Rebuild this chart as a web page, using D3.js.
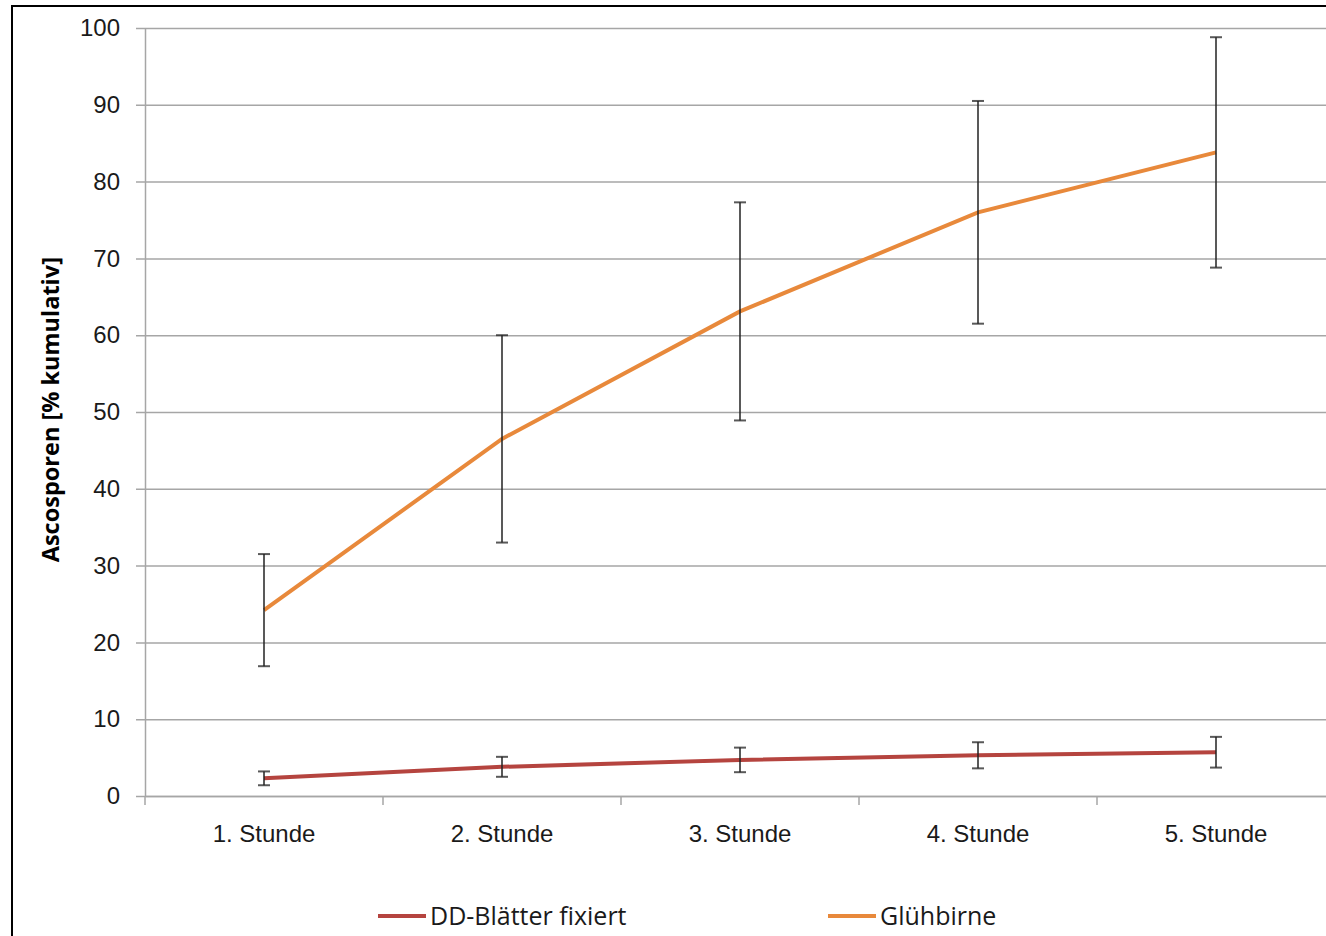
<!DOCTYPE html>
<html>
<head>
<meta charset="utf-8">
<script src="https://cdn.jsdelivr.net/npm/d3@7"></script>
<style>
  body { margin: 0; background: #fff; }
  svg { display: block; font-family: "Open Sans", "Noto Sans", sans-serif; }
</style>
</head>
<body>
<div id="chart"></div>
<script>
const categories = ["1. Stunde", "2. Stunde", "3. Stunde", "4. Stunde", "5. Stunde"];
const yTicks = [0, 10, 20, 30, 40, 50, 60, 70, 80, 90, 100];

const ddValues = [2.3, 3.8, 4.7, 5.3, 5.7];
const ddErrors = [0.9, 1.3, 1.6, 1.7, 2.0];
const glValues = [24.2, 46.5, 63.1, 76.0, 83.8];
const glErrors = [7.3, 13.5, 14.2, 14.5, 15.0];

const seriesNames = ["DD-Blätter fixiert", "Glühbirne"];
const seriesColors = ["#b5443f", "#e8893b"];

const w = 1326, h = 936;
const margin = { top: 28, left: 145, bottom: 140, right: -9 };

const svg = d3.select("#chart").append("svg")
  .attr("width", w)
  .attr("height", h);

// outer frame (cropped on the right and bottom)
svg.append("path")
  .attr("d", `M12,${h} V6 H${w}`)
  .attr("fill", "none")
  .attr("stroke", "#000")
  .attr("stroke-width", 2);

const x = d3.scaleBand()
  .domain(categories)
  .range([margin.left, w - margin.right]);

const y = d3.scaleLinear()
  .domain([0, 100])
  .range([h - margin.bottom, margin.top]);

// gridlines + y axis
const yAxis = d3.axisLeft(y)
  .tickValues(yTicks)
  .tickSize(-(w - margin.right - margin.left))
  .tickPadding(16)
  .tickSizeOuter(0);

const gy = svg.append("g")
  .attr("transform", `translate(${margin.left},0)`)
  .call(yAxis);
gy.select(".domain").attr("stroke", "#a6a6a6").attr("stroke-width", 1.5);
gy.selectAll(".tick line")
  .attr("stroke", "#a6a6a6")
  .attr("stroke-width", 1.5)
  .attr("x1", -9);
gy.selectAll(".tick text")
  .attr("font-size", 24)
  .attr("fill", "#1a1a1a")
  .attr("x", -25);

// x axis
const xAxis = d3.axisBottom(x).tickSize(0).tickPadding(29);
const gx = svg.append("g")
  .attr("transform", `translate(0,${y(0)})`)
  .call(xAxis);
gx.select(".domain").attr("stroke", "#a6a6a6").attr("stroke-width", 1.5);
gx.selectAll(".tick text")
  .attr("font-size", 24)
  .attr("fill", "#1a1a1a");

// category separator ticks
gx.selectAll(".sep")
  .data([categories[0]].concat(categories))
  .enter()
  .append("line")
  .attr("class", "sep")
  .attr("x1", (d, i) => i === 0 ? x(d) : x(d) + x.bandwidth())
  .attr("x2", (d, i) => i === 0 ? x(d) : x(d) + x.bandwidth())
  .attr("y1", 0)
  .attr("y2", 9)
  .attr("stroke", "#a6a6a6")
  .attr("stroke-width", 1.5);

// y axis title
svg.append("text")
  .attr("transform", `translate(59,${y(50.3)}) rotate(-90)`)
  .attr("text-anchor", "middle")
  .attr("font-size", 23.5)
  .attr("font-weight", "bold")
  .attr("fill", "#000")
  .text("Ascosporen [% kumulativ]");

const cx = (d) => x(d) + x.bandwidth() / 2;

const series = [
  { values: ddValues, errors: ddErrors, color: seriesColors[0] },
  { values: glValues, errors: glErrors, color: seriesColors[1] }
];

const line = d3.line()
  .x((d, i) => cx(categories[i]))
  .y((d) => y(d));

series.forEach(function (s) {
  svg.append("path")
    .datum(s.values)
    .attr("fill", "none")
    .attr("stroke", s.color)
    .attr("stroke-width", 4)
    .attr("d", line);

  const eb = svg.append("g")
    .attr("stroke", "#222")
    .attr("stroke-opacity", 0.75)
    .attr("stroke-width", 2);

  s.values.forEach(function (v, i) {
    const xc = cx(categories[i]);
    const top = y(v + s.errors[i]);
    const bot = y(v - s.errors[i]);
    eb.append("line").attr("x1", xc).attr("x2", xc).attr("y1", top).attr("y2", bot);
    eb.append("line").attr("x1", xc - 6).attr("x2", xc + 6).attr("y1", top).attr("y2", top);
    eb.append("line").attr("x1", xc - 6).attr("x2", xc + 6).attr("y1", bot).attr("y2", bot);
  });
});

// legend
const legendX = [378, 828];
const legend = svg.append("g").attr("transform", "translate(0,916)");
seriesNames.forEach(function (name, i) {
  legend.append("line")
    .attr("x1", legendX[i])
    .attr("x2", legendX[i] + 48)
    .attr("y1", 0)
    .attr("y2", 0)
    .attr("stroke", seriesColors[i])
    .attr("stroke-width", 4);
  legend.append("text")
    .attr("x", legendX[i] + 52)
    .attr("y", 0)
    .attr("dy", "0.35em")
    .attr("font-size", 25)
    .attr("fill", "#1a1a1a")
    .text(name);
});
</script>
</body>
</html>
